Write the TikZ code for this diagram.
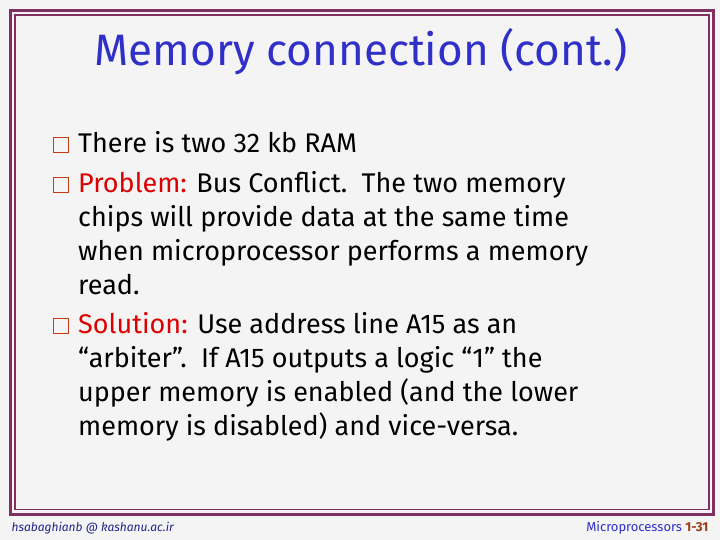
\documentclass[tikz,border=0pt]{standalone}
\usepackage{fontspec}
\setmainfont{Fira Sans}
\usepackage{xcolor}
\definecolor{frame}{RGB}{128,48,96}
\definecolor{titleblue}{RGB}{48,48,200}
\definecolor{bulletred}{RGB}{200,60,20}
\definecolor{keyred}{RGB}{220,0,0}
\definecolor{pagebrown}{RGB}{150,60,20}
\begin{document}
\begin{tikzpicture}[x=1pt,y=-1pt,
% common options for the bullet squares:
bullet/.style = {draw=bulletred, line width=1.8pt, minimum size=15pt, inner sep=0},
% common options for the text lines:
item/.style = {anchor=north west, align=left, inner sep=0,
            font=\fontsize{27}{34}\selectfont}]
\fill[gray!9] (0,0) rectangle (720,540);
\draw[frame, line width=3pt] (10.5,10.5) rectangle (713.5,514);
\draw[frame, line width=1.2pt] (15,15) rectangle (709,509.5);
\node[titleblue, font=\fontsize{44}{50}\selectfont] (title) at (361,52) {Memory connection (cont.)};
\node[bullet] (B1) at (61,145) {};
\node[item] (T1) at (78,131) {There is two 32 kb RAM};
\node[bullet] (B2) at (61,185) {};
\node[item] (T2) at (78,171) {\textcolor{keyred}{Problem:} Bus Conflict.\ \ The two memory\\chips will provide data at the same time\\when microprocessor performs a memory\\read.};
\node[bullet] (B3) at (61,326) {};
\node[item] (T3) at (78,312) {\textcolor{keyred}{Solution:} Use address line A15 as an\\``arbiter''.\ \ If A15 outputs a logic ``1'' the\\upper memory is enabled (and the lower\\memory is disabled) and vice-versa.};
\node[anchor=west, text=titleblue!70!black, font=\itshape\fontsize{12}{14}\selectfont] (mail) at (8,528) {hsabaghianb @ kashanu.ac.ir};
\node[anchor=east, font=\fontsize{13}{15}\selectfont] (page) at (712,528) {\textcolor{titleblue}{Microprocessors} \textcolor{pagebrown}{\bfseries\rmfamily 1-31}};
\end{tikzpicture}
\end{document}
